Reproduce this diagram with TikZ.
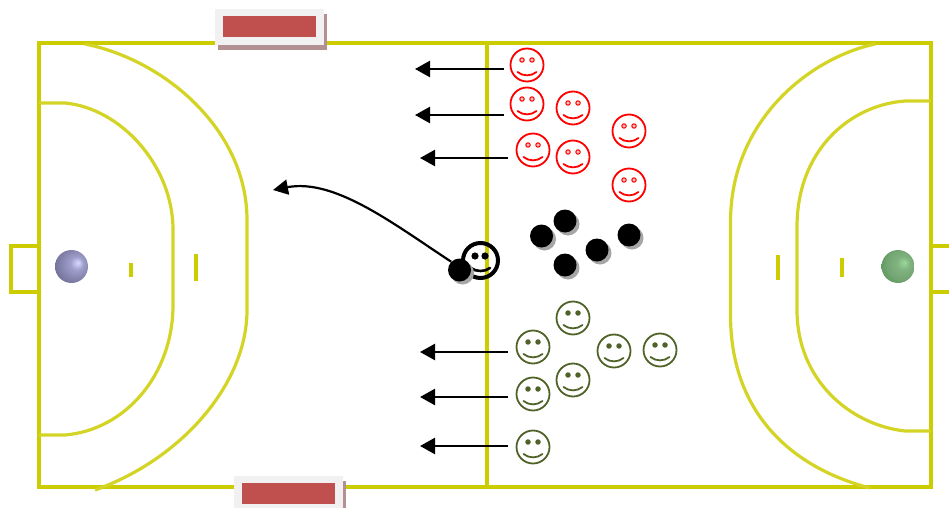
\documentclass[tikz,border=0pt]{standalone}
\usepackage{tikz}
\usetikzlibrary{arrows.meta,shadows}

\definecolor{courtline}{HTML}{CCCC00}
\definecolor{goalred}{HTML}{C0504D}
\definecolor{goalpale}{HTML}{F1F1F1}
\definecolor{goalshade}{HTML}{B39193}
\definecolor{teamgreen}{HTML}{4F6228}

\pgfdeclareradialshading{ballblue}{\pgfpoint{10bp}{6bp}}{
    color(0bp)=(white!85!blue); color(10bp)=(white!70!blue!60!gray);
    color(22bp)=(black!10!white!60!blue!40!gray); color(38bp)=(black!55!white!85!blue);
    color(50bp)=(black!60!white!85!blue)}
\pgfdeclareradialshading{ballgreen}{\pgfpoint{10bp}{6bp}}{
    color(0bp)=(white!65!green!70!gray); color(10bp)=(white!50!green!40!gray);
    color(22bp)=(white!35!green!30!gray); color(38bp)=(black!35!green!40!gray);
    color(50bp)=(black!50!green!50!gray)}

\tikzset{
    court/.style={courtline,line width=3.5pt},
    arc/.style={courtline!85,line width=3.2pt},
    tick/.style={courtline,line width=3.5pt},
    run/.style={-{Triangle[length=15pt,width=16pt]},line width=2.4pt,black},
    carrier/.style={circle,fill=black,minimum size=23pt,inner sep=0pt,
        drop shadow={shadow xshift=3pt,shadow yshift=-3pt,fill=black!35,opacity=1}},
    gball/.style={circle,minimum size=33pt,inner sep=0pt},
    pics/smiley/.style 2 args={code={
        \node[circle,draw=#1,line width=1.8pt,minimum size=33pt,inner sep=0pt] (-f) {};
        \draw[#1,line width=1pt,fill=#2] (-5,-5) circle (2.2) (5,-5) circle (2.2);
        \draw[#1,line width=1.8pt,line cap=round] (-9.5,7) .. controls (-4,11.5) and (4,11.5) .. (9.5,7);
    }}
}

\begin{document}
\begin{tikzpicture}[x=1pt,y=-1pt]

\useasboundingbox (0,0) rectangle (949,508);

% court
\draw[court] (39,43) rectangle (931,487);
\draw[court] (487,43)--(487,487);
\draw[court] (39,246)--(11,246)--(11,292)--(39,292);
\draw[court] (931,246)--(949,246) (931,292)--(949,292);

% areas left
\draw[arc] (85,44) .. controls (165,60) and (247,130) .. (247,220)
    -- (247,310) .. controls (247,385) and (180,460) .. (95,490);
\draw[arc] (39,103) -- (65,103) .. controls (120,108) and (173,165) .. (173,230)
    -- (173,305) .. controls (173,375) and (125,430) .. (65,435) -- (39,435);

% areas right
\draw[arc] (875,44) .. controls (810,58) and (730.5,120) .. (730.5,222)
    -- (730.5,315) .. controls (730.5,420) and (800,470) .. (870,488);
\draw[arc] (931,101) -- (905,101) .. controls (850,105) and (797,150) .. (797,227)
    -- (797,310) .. controls (797,380) and (850,425) .. (905,431) -- (931,431);

% ticks
\draw[tick] (131,263)--(131,277);
\draw[tick] (196,254)--(196,281);
\draw[tick] (778,255)--(778,280);
\draw[tick] (842,258)--(842,277);

% balls in the goals
\node[gball,shading=ballblue] (ballL) at (71.5,266.5) {};
\node[gball,shading=ballgreen] (ballR) at (898,266.5) {};

% benches
\fill[goalshade] (218,14) rectangle (327,50);
\fill[goalpale] (215,9) rectangle (324,45);
\fill[goalred] (223,16) rectangle (316,37);
\fill[goalshade] (237,481) rectangle (346,508);
\fill[goalpale] (234,476) rectangle (343,508);
\fill[goalred] (242,483) rectangle (335,504);

% red team
\foreach \n/\x/\y in {1/527/65,2/527/104,3/573/108,4/629/131,5/533/150,6/573/157,7/629/185}{
    \pic (red\n) at (\x,\y) {smiley={red}{red!25}};
}

% green team
\foreach \n/\x/\y in {1/573/318,2/533/347,3/614/351,4/660/350,5/573/380,6/533/394,7/533/447}{
    \pic (green\n) at (\x,\y) {smiley={teamgreen}{teamgreen}};
}

% player with the ball
\node[circle,draw=black,line width=4pt,minimum width=34pt,minimum height=35pt,inner sep=0pt] (player) at (480.5,260.5) {};
\fill[black] (475,256) circle (3.6) (485,256) circle (3.6);
\draw[black,line width=2.6pt,line cap=round] (471,268) .. controls (476,272) and (485,272) .. (490,268);

\foreach \n/\x/\y in {1/541.5/236,2/565/221,3/597/250,4/629/235,5/565/265,6/459.5/270}{
    \node[carrier] (disc\n) at (\x,\y) {};
}

% runs
\foreach \n/\sx/\y/\tx in {1/504/69/415,2/504/115/415,3/508/158/420,4/508/352/420,5/508/397/420,6/508/446/420}{
    \coordinate (from\n) at (\sx,\y);
    \coordinate (to\n) at (\tx,\y);
    \draw[run] (from\n)--(to\n);
}

% pass
\coordinate (target) at (273,190);
\draw[-{Triangle[length=15pt,width=15pt]},line width=2.2pt] (disc6.135) .. controls (395,225) and (335,178) .. (target);

\end{tikzpicture}
\end{document}
